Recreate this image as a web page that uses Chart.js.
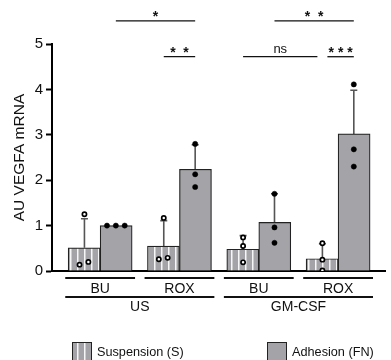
<!DOCTYPE html>
<html>
<head>
<meta charset="utf-8">
<script src="https://cdn.jsdelivr.net/npm/chart.js@4"></script>
<style>
  body { margin: 0; background: #fff; }
  canvas { display: block; }
</style>
</head>
<body>
<canvas id="myChart" width="391" height="360"></canvas>
<script>
// groups along x: treatment under each condition
var treatments = ['BU', 'ROX', 'BU', 'ROX'];
var conditions = ['US', 'GM-CSF'];
var seriesNames = ['Suspension (S)', 'Adhesion (FN)'];

// bar heights (mean) and upper error (SD)
var meanS = [0.51, 0.55, 0.48, 0.27];
var meanA = [1.00, 2.24, 1.07, 3.02];
var sdS = [0.64, 0.56, 0.30, 0.33];
var sdA = [0.00, 0.54, 0.63, 0.96];

// single replicates
var pointsS = [[1.25, 0.14, 0.20], [1.17, 0.26, 0.29], [0.74, 0.55, 0.19], [0.61, 0.25, 0.01]];
var pointsA = [[1.00, 1.00, 1.00], [2.80, 2.13, 1.85], [1.70, 0.96, 0.62], [4.11, 2.68, 2.30]];

var yTicks = [0, 1, 2, 3, 4, 5];

// significance: [group, series(0=S,1=A)] from -> to, label, row
var sig = [
  { from: [0, 1], to: [1, 1], label: '*', row: 1 },
  { from: [1, 0], to: [1, 1], label: '*  *', row: 0 },
  { from: [2, 1], to: [3, 1], label: '*  *', row: 1 },
  { from: [2, 0], to: [3, 0], label: 'ns', row: 0, cutEnd: 5 },
  { from: [3, 0], to: [3, 1], label: '* * *', row: 0, cutStart: 5 }
];

var FONT = '"Liberation Sans", Arial, Helvetica, sans-serif';
var GREY = '#a4a4a8';
var BAR_W = 32;
var HALF = 0.198;          // bar centre offset from group centre, in x units
var PX = 80.67;            // px per x unit (for point jitter)
var jitterS = [[0, -5, 4], [0, -5, 4], [0, 0, 0], [0, 0, 0]];
var jitterA = [[-9, 0, 9], [0, 0, 0], [0, 0, 0], [0, 0, 0]];

function stripes() {
  var c = document.createElement('canvas');
  c.width = 7; c.height = 7;
  var g = c.getContext('2d');
  g.fillStyle = GREY;
  g.fillRect(0, 0, 7, 7);
  g.fillStyle = 'rgba(255,255,255,0.9)';
  g.fillRect(0, 0, 1.5, 7);
  return g.createPattern(c, 'repeat');
}
var stripeFill = stripes();

function barData(vals) {
  return vals.map(function(v, i) { return { x: i, y: v }; });
}
function pointData(pts, jit, side) {
  var out = [];
  pts.forEach(function(arr, i) {
    arr.forEach(function(v, k) {
      out.push({ x: i + side * HALF + jit[i][k] / PX, y: v });
    });
  });
  return out;
}

var annot = {
  id: 'annot',
  beforeDatasetsDraw: function(chart) {
    var ctx = chart.ctx, xs = chart.scales.x, ys = chart.scales.y;
    ctx.save();
    ctx.strokeStyle = '#555';
    ctx.lineWidth = 1.6;
    [[meanS, sdS, -1], [meanA, sdA, 1]].forEach(function(s) {
      s[0].forEach(function(m, i) {
        if (!s[1][i]) return;
        var x = xs.getPixelForValue(i + s[2] * HALF);
        var y0 = ys.getPixelForValue(m), y1 = ys.getPixelForValue(m + s[1][i]);
        ctx.beginPath();
        ctx.moveTo(x, y0); ctx.lineTo(x, y1);
        ctx.moveTo(x - 3.5, y1); ctx.lineTo(x + 3.5, y1);
        ctx.stroke();
      });
    });
    ctx.restore();
  },
  afterDraw: function(chart) {
    var ctx = chart.ctx, xs = chart.scales.x, ys = chart.scales.y;
    ctx.save();
    ctx.fillStyle = '#111';
    ctx.strokeStyle = '#111';
    ctx.textAlign = 'center';
    ctx.textBaseline = 'middle';

    // significance brackets
    sig.forEach(function(b) {
      var x1 = xs.getPixelForValue(b.from[0] + (b.from[1] ? HALF : -HALF)) + (b.cutStart || 0);
      var x2 = xs.getPixelForValue(b.to[0] + (b.to[1] ? HALF : -HALF)) - (b.cutEnd || 0);
      var y = ys.getPixelForValue(b.row ? 5.51 : 4.72);
      ctx.lineWidth = 1.3;
      ctx.beginPath(); ctx.moveTo(x1, y); ctx.lineTo(x2, y); ctx.stroke();
      if (b.label === 'ns') {
        ctx.font = '13px ' + FONT;
        ctx.fillText(b.label, (x1 + x2) / 2, y - 7);
      } else {
        ctx.font = 'bold 14px ' + FONT;
        ctx.fillText(b.label, (x1 + x2) / 2, y - 4);
      }
    });

    // category rows under the axis
    ctx.lineWidth = 2;
    ctx.font = '14px ' + FONT;
    var base = chart.chartArea.bottom;
    treatments.forEach(function(t, i) {
      var a = xs.getPixelForValue(i - 0.44), b = xs.getPixelForValue(i + 0.44);
      ctx.beginPath(); ctx.moveTo(a, base + 7); ctx.lineTo(b, base + 7); ctx.stroke();
      ctx.fillText(t, xs.getPixelForValue(i), base + 18);
    });
    conditions.forEach(function(c, j) {
      var a = xs.getPixelForValue(2 * j - 0.44), b = xs.getPixelForValue(2 * j + 1.44);
      ctx.beginPath(); ctx.moveTo(a, base + 26); ctx.lineTo(b, base + 26); ctx.stroke();
      ctx.fillText(c, xs.getPixelForValue(2 * j + 0.5), base + 36);
    });

    // legend
    ctx.font = '12.7px ' + FONT;
    ctx.textAlign = 'left';
    ctx.lineWidth = 1;
    [[72, stripeFill], [267, GREY]].forEach(function(l, k) {
      ctx.fillStyle = l[1];
      ctx.fillRect(l[0], 342.5, 19, 18);
      ctx.strokeStyle = '#222';
      ctx.strokeRect(l[0] + 0.5, 342.5, 19, 18);
      ctx.fillStyle = '#111';
      ctx.fillText(seriesNames[k], l[0] + 25, 352.5);
    });
    ctx.restore();
  }
};

var ctx = document.getElementById('myChart').getContext('2d');
var chart = new Chart(ctx, {
  data: {
    datasets: [{
      type: 'bar',
      label: seriesNames[0],
      data: barData(meanS),
      backgroundColor: stripeFill,
      borderColor: '#222',
      borderWidth: 1.2,
      barThickness: BAR_W,
      order: 2
    }, {
      type: 'bar',
      label: seriesNames[1],
      data: barData(meanA),
      backgroundColor: GREY,
      borderColor: '#222',
      borderWidth: 1.2,
      barThickness: BAR_W,
      order: 2
    }, {
      type: 'scatter',
      data: pointData(pointsS, jitterS, -1),
      pointRadius: 2.1,
      pointBackgroundColor: '#fff',
      pointBorderColor: '#000',
      pointBorderWidth: 1.7,
      order: 0
    }, {
      type: 'scatter',
      data: pointData(pointsA, jitterA, 1),
      pointRadius: 2.6,
      pointBackgroundColor: '#000',
      pointBorderColor: '#000',
      pointBorderWidth: 0.5,
      order: 0
    }]
  },
  options: {
    responsive: false,
    animation: false,
    layout: { padding: { top: 44, left: 0, right: 0, bottom: 0 } },
    plugins: { legend: { display: false }, tooltip: { enabled: false } },
    scales: {
      x: {
        type: 'linear',
        offset: false,
        min: -0.607,
        max: 3.595,
        ticks: { display: false },
        grid: { display: false, offset: false },
        border: { display: true, color: '#000', width: 2 },
        afterFit: function(s) { s.height = 89; }
      },
      y: {
        min: 0,
        max: 5,
        afterBuildTicks: function(s) { s.ticks = yTicks.map(function(v) { return { value: v }; }); },
        ticks: { color: '#111', padding: 3, font: { family: FONT, size: 15 } },
        grid: { drawOnChartArea: false, drawTicks: true, tickLength: 6, tickWidth: 2, tickColor: '#000' },
        border: { display: true, color: '#000', width: 2 },
        title: { display: true, text: 'AU VEGFA mRNA', color: '#111', padding: { top: 10 }, font: { family: FONT, size: 15.5 } },
        afterFit: function(s) { s.width = 52; }
      }
    }
  },
  plugins: [annot]
});
</script>
</body>
</html>
